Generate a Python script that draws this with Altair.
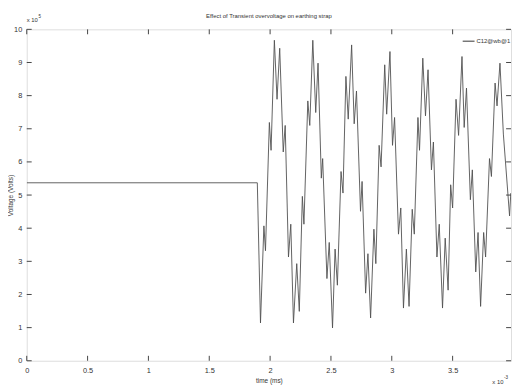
import altair as alt
import pandas as pd

# time (ms, x10^-3 shown) and voltage (x10^5 V)
t_vals = [0.0, 1.895, 1.921, 1.949, 1.962, 1.994, 2.008, 2.035, 2.057, 2.079,
          2.108, 2.124, 2.151, 2.170, 2.192, 2.219, 2.240, 2.265, 2.278, 2.310,
          2.326, 2.351, 2.375, 2.394, 2.421, 2.432, 2.467, 2.486, 2.513, 2.534,
          2.553, 2.583, 2.599, 2.623, 2.642, 2.670, 2.691, 2.710, 2.743, 2.756,
          2.785, 2.804, 2.826, 2.853, 2.869, 2.896, 2.912, 2.942, 2.958, 2.985,
          3.006, 3.023, 3.055, 3.074, 3.096, 3.120, 3.142, 3.168, 3.185, 3.215,
          3.228, 3.255, 3.277, 3.298, 3.326, 3.342, 3.371, 3.390, 3.417, 3.439,
          3.463, 3.484, 3.500, 3.528, 3.549, 3.577, 3.595, 3.614, 3.646, 3.662,
          3.690, 3.709, 3.730, 3.755, 3.771, 3.803, 3.819, 3.849, 3.865, 3.889,
          3.917, 3.968, 3.978]
v_vals = [5.37, 5.37, 1.14, 4.07, 3.32, 7.19, 6.35, 9.67, 7.89, 9.43,
          6.30, 7.10, 3.13, 4.12, 1.14, 2.93, 1.49, 4.96, 4.12, 7.84,
          7.10, 9.67, 7.49, 8.98, 5.51, 6.10, 2.48, 3.57, 0.99, 3.37,
          2.28, 5.71, 5.06, 8.58, 7.29, 9.53, 7.15, 8.14, 4.51, 5.41,
          2.04, 3.23, 1.29, 3.97, 2.93, 6.50, 5.85, 8.93, 7.44, 9.33,
          6.50, 7.34, 3.82, 4.61, 1.59, 3.37, 1.64, 4.57, 3.82, 7.34,
          6.35, 9.13, 7.39, 8.78, 5.76, 6.60, 3.13, 4.12, 1.59, 3.70,
          2.13, 5.31, 4.61, 7.89, 6.80, 9.18, 7.04, 8.23, 4.86, 5.76,
          2.68, 3.87, 1.64, 3.87, 3.13, 6.10, 5.56, 8.38, 7.69, 8.98,
          6.84, 4.37, 5.06]

x_ticks = [0, 0.5, 1, 1.5, 2, 2.5, 3, 3.5]
y_ticks = [0, 1, 2, 3, 4, 5, 6, 7, 8, 9, 10]
series_name = "C12@wb@1"
title_text = "Effect of Transient overvoltage on earthing strap"

FONT = "'Liberation Sans Narrow', 'Liberation Sans', sans-serif"
W, H = 491, 336
INK = "#333333"

df = pd.DataFrame({"t": t_vals, "v": v_vals})
xt = pd.DataFrame({"x": x_ticks})
yt = pd.DataFrame({"y": y_ticks})

xs = alt.Scale(domain=[0, 3.98], nice=False, zero=False)
ys = alt.Scale(domain=[0, 10], nice=False)

x_axis = alt.Axis(values=x_ticks, format="~g", ticks=False, grid=False,
                  domain=False, labelOverlap=False,
                  labelFontSize=7.5, labelColor=INK, labelFont=FONT,
                  labelPadding=6, titleFontSize=6.5, titleFont=FONT,
                  titleFontWeight="normal", titleColor=INK,
                  titleX=W / 2, titleY=20, titleBaseline="middle",
                  titleAlign="center", labelFlush=False)
y_axis = alt.Axis(values=y_ticks, format="d", ticks=False, grid=False,
                  domain=False, labelOverlap=False,
                  labelFontSize=7.5, labelColor=INK, labelFont=FONT,
                  labelPadding=5, titleFontSize=6.5, titleFont=FONT,
                  titleFontWeight="normal", titleColor=INK,
                  titleX=-16, titleY=H / 2, titleAngle=-90,
                  titleBaseline="middle", titleAlign="center",
                  labelFlush=False)
XT, YT = "time (ms)", "Voltage (Volts)"

line = alt.Chart(df).mark_line(color="#505050", strokeWidth=0.9, clip=True).encode(
    x=alt.X("t:Q", scale=xs, title=XT, axis=x_axis),
    y=alt.Y("v:Q", scale=ys, title=YT, axis=y_axis),
)

tick_style = dict(color="#444444", strokeWidth=1)
bx = alt.Chart(xt).mark_rule(**tick_style).encode(
    x=alt.X("x:Q", scale=xs, title=XT, axis=x_axis),
    y=alt.value(H), y2=alt.value(H - 5))
tx = alt.Chart(xt).mark_rule(**tick_style).encode(
    x=alt.X("x:Q", scale=xs, title=XT, axis=x_axis),
    y=alt.value(0), y2=alt.value(5))
ly = alt.Chart(yt).mark_rule(**tick_style).encode(
    y=alt.Y("y:Q", scale=ys, title=YT, axis=y_axis),
    x=alt.value(0), x2=alt.value(5))
ry = alt.Chart(yt).mark_rule(**tick_style).encode(
    y=alt.Y("y:Q", scale=ys, title=YT, axis=y_axis),
    x=alt.value(W - 5), x2=alt.value(W))

ann = pd.DataFrame({"a": [0]})
title_mark = alt.Chart(ann).mark_text(
    text=title_text, align="center", baseline="middle", fontSize=6,
    font=FONT, color=INK).encode(x=alt.value(W / 2), y=alt.value(-13))
leg_line = alt.Chart(ann).mark_rule(color=INK, strokeWidth=1).encode(
    x=alt.value(442), x2=alt.value(454), y=alt.value(12))
leg_text = alt.Chart(ann).mark_text(
    text=series_name, align="left", baseline="middle", fontSize=6,
    font=FONT, color=INK).encode(x=alt.value(456), y=alt.value(12))

mul_y = alt.Chart(ann).mark_text(
    text="x 10", align="left", baseline="middle", fontSize=6,
    font=FONT, color=INK).encode(x=alt.value(0), y=alt.value(-9))
mul_y_exp = alt.Chart(ann).mark_text(
    text="5", align="left", baseline="middle", fontSize=4.5,
    font=FONT, color=INK).encode(x=alt.value(12), y=alt.value(-13))
mul_x = alt.Chart(ann).mark_text(
    text="x 10", align="left", baseline="middle", fontSize=6,
    font=FONT, color=INK).encode(x=alt.value(472), y=alt.value(358))
mul_x_exp = alt.Chart(ann).mark_text(
    text="-3", align="left", baseline="middle", fontSize=4.5,
    font=FONT, color=INK).encode(x=alt.value(484), y=alt.value(354))

chart = alt.layer(
    line, bx, tx, ly, ry, title_mark, leg_line, leg_text,
    mul_y, mul_y_exp, mul_x, mul_x_exp
).properties(
    width=W, height=H,
    autosize=alt.AutoSizeParams(type="none"),
    padding={"left": 19, "top": 19, "right": 2, "bottom": 26},
).configure_view(stroke="#555555", strokeWidth=1.2).configure(background="white")

chart.save("out.html", embed_options={"renderer": "svg", "actions": False})
